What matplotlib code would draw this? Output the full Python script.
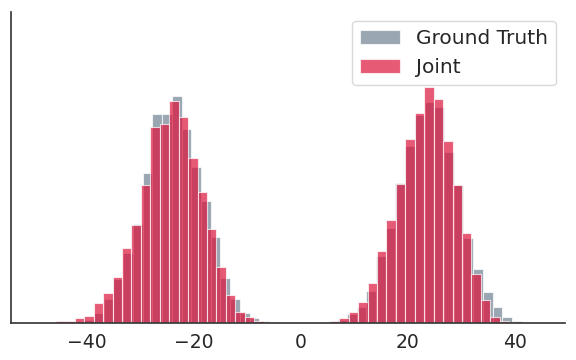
import numpy as np
import matplotlib
matplotlib.use("Agg")
from matplotlib import pyplot as plt

#%% Data (histogram counts, arbitrary units)

# Ground truth: 49 bins, left edge and bin width in x units
gt_left = -45.85
gt_width = 1.8165
gt_counts = [0.5, 0.8, 1.5, 3, 10.3, 24, 44, 70, 99,
             149.7, 208.7, 208.7, 227.3, 193.7, 156.3, 122.3, 86.3, 45.3,
             23.7, 9.7, 4.7, 2, 0.8,
             0, 0, 0, 0, 0,
             1, 3, 8.7, 16.3, 32.3, 67, 94.7, 139.7, 177, 208, 221.3,
             216.3, 171.3, 138, 84.7, 53.7, 31.3, 16.3, 6.3, 2.3, 0.8]

# Joint: 48 bins
joint_left = -45.70
joint_width = 1.7645
joint_counts = [1.6, 1.6, 4.7, 7.3, 20.3, 30.3, 46.3, 75.3, 98,
                138, 196.3, 198.7, 222, 206.3, 165.3, 131.3, 93.7, 55.7,
                27.7, 10.7, 5.7, 2, 0.8,
                0, 0, 0, 0, 0, 0,
                1.6, 5.3, 11.3, 21.3, 40.3, 71.7, 103, 139, 184, 210.3,
                235.7, 224, 182, 138, 90.3, 48.7, 22.7, 5.7, 1.6]

x_ticks = [-40, -20, 0, 20, 40]

#%% Plot

gt_edges = gt_left + gt_width * np.arange(len(gt_counts) + 1)
joint_edges = joint_left + joint_width * np.arange(len(joint_counts) + 1)

fig = plt.figure(figsize=(5.76, 3.6), dpi=100)
ax = fig.add_axes([0.0191, 0.1028, 0.962, 0.8639])

ax.bar(gt_edges[:-1], gt_counts, width=np.diff(gt_edges), align='edge',
       color='slategray', alpha=0.7, edgecolor='white', linewidth=0.8,
       label='Ground Truth')
ax.bar(joint_edges[:-1], joint_counts, width=np.diff(joint_edges), align='edge',
       color='crimson', alpha=0.7, edgecolor='white', linewidth=0.8,
       label='Joint')

ax.set_xlim(-54.1, 49.44)
ax.set_ylim(0, 311)
ax.set_xticks(x_ticks)
ax.set_xticklabels([f'{t}' if t >= 0 else f'\u2212{-t}' for t in x_ticks])
ax.set_yticks([])
ax.tick_params(axis='x', length=0, pad=7, labelsize=13.5, labelcolor='#262626')

for side in ['top', 'right']:
    ax.spines[side].set_visible(False)
for side in ['left', 'bottom']:
    ax.spines[side].set_color('#3a3a3a')
    ax.spines[side].set_linewidth(1.25)

leg = ax.legend(loc='upper right', fontsize=14.5, frameon=True, fancybox=True,
                borderaxespad=0.45)
leg.get_frame().set_edgecolor('#d0d0d0')
for txt in leg.get_texts():
    txt.set_color('#262626')

plt.savefig('out.png', dpi=100)
